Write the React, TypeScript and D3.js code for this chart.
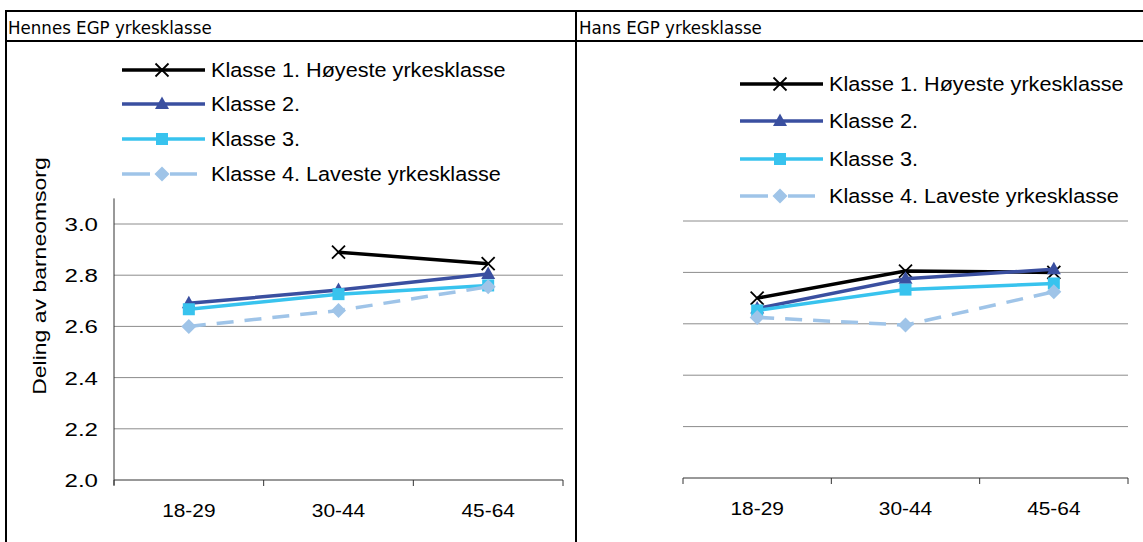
import * as d3 from "d3";
import React from "react";

// Age groups (x categories)
const ageGroups = ["18-29", "30-44", "45-64"];

const seriesNames = [
  "Klasse 1. Høyeste yrkesklasse",
  "Klasse 2.",
  "Klasse 3.",
  "Klasse 4. Laveste yrkesklasse",
];

// Hennes EGP yrkesklasse
const hennesK1 = [null, 2.89, 2.845];
const hennesK2 = [2.69, 2.742, 2.805];
const hennesK3 = [2.667, 2.726, 2.76];
const hennesK4 = [2.6, 2.662, 2.755];

// Hans EGP yrkesklasse
const hansK1 = [2.7, 2.805, 2.8];
const hansK2 = [2.66, 2.775, 2.812];
const hansK3 = [2.652, 2.733, 2.757];
const hansK4 = [2.625, 2.595, 2.725];

const yTicks = [2.0, 2.2, 2.4, 2.6, 2.8, 3.0];

const colors = ["#000000", "#3A4FA0", "#38C3EE", "#9FC4E8"];
const markers = ["x", "triangle", "square", "diamond"];

const FONT = "'Liberation Sans', Arial, sans-serif";

function Marker({ type, x, y, color }: { type: string; x: number; y: number; color: string }) {
  if (type === "x") {
    const s = 6.5;
    return (
      <g stroke={color} strokeWidth={1.8}>
        <line x1={x - s} y1={y - s} x2={x + s} y2={y + s} />
        <line x1={x - s} y1={y + s} x2={x + s} y2={y - s} />
      </g>
    );
  }
  if (type === "triangle") {
    const p = d3.path();
    p.moveTo(x, y - 7.5);
    p.lineTo(x + 7, y + 5);
    p.lineTo(x - 7, y + 5);
    p.closePath();
    return <path d={p.toString()} fill={color} />;
  }
  if (type === "square") {
    return <rect x={x - 6} y={y - 6} width={12} height={12} fill={color} />;
  }
  const p = d3.path();
  p.moveTo(x, y - 7.5);
  p.lineTo(x + 7.5, y);
  p.lineTo(x, y + 7.5);
  p.lineTo(x - 7.5, y);
  p.closePath();
  return <path d={p.toString()} fill={color} />;
}

// text with a stretch along its own direction (the source picture is distorted)
function SText({ x, y, anchor = "start", size = 18, sx = 1, children, rotate = 0, family = FONT }: any) {
  return (
    <g transform={`translate(${x},${y}) rotate(${rotate}) scale(${sx},1)`}>
      <text textAnchor={anchor} fontFamily={family} fontSize={size} fill="#000">
        {children}
      </text>
    </g>
  );
}

interface PanelProps {
  series: (number | null)[][];
  x0: number;
  x1: number;
  yBottom: number;
  yTop3: number;
  showY: boolean;
  legendX: number;
  legendY: number[];
}

function Panel({ series, x0, x1, yBottom, yTop3, showY, legendX, legendY }: PanelProps) {
  const x = d3.scaleBand<string>().domain(ageGroups).range([x0, x1]);
  const y = d3.scaleLinear().domain([2.0, 3.0]).range([yBottom, yTop3]);
  const yTopAxis = y(3.1);

  const line = d3
    .line<number | null>()
    .defined((d) => d != null)
    .x((_, i) => x(ageGroups[i])! + x.bandwidth() / 2)
    .y((d) => y(d as number));

  return (
    <g>
      {yTicks
        .filter((t) => t > 2.0)
        .map((t) => (
          <line key={t} x1={x0} x2={x1} y1={y(t)} y2={y(t)} stroke="#8c8c8c" strokeWidth={1} />
        ))}
      {showY && (
        <line x1={x0} x2={x0} y1={yTopAxis} y2={yBottom + 5} stroke="#333" strokeWidth={1} />
      )}
      <line x1={x0} x2={x1} y1={yBottom} y2={yBottom} stroke="#333" strokeWidth={1} />
      {[...ageGroups.map((g) => x(g)!), x1].map((v, i) => (
        <line key={i} x1={v} x2={v} y1={yBottom} y2={yBottom + 6} stroke="#333" strokeWidth={1} />
      ))}
      {showY &&
        yTicks.map((t) => (
          <SText key={t} x={98} y={y(t) + 7} anchor="end" size={18.5} sx={1.3}>
            {d3.format(".1f")(t)}
          </SText>
        ))}
      {ageGroups.map((g) => (
        <SText key={g} x={x(g)! + x.bandwidth() / 2} y={yBottom + 37} anchor="middle" size={18.5} sx={1.13}>
          {g}
        </SText>
      ))}
      {series.map((s, si) => (
        <g key={si}>
          <path
            d={line(s) || ""}
            fill="none"
            stroke={colors[si]}
            strokeWidth={3.5}
            strokeDasharray={si === 3 ? "17,11" : undefined}
          />
          {s.map((v, i) =>
            v == null ? null : (
              <Marker
                key={i}
                type={markers[si]}
                x={x(ageGroups[i])! + x.bandwidth() / 2}
                y={y(v)}
                color={colors[si]}
              />
            )
          )}
        </g>
      ))}
      {seriesNames.map((name, si) => {
        const ly = legendY[si];
        return (
          <g key={name}>
            {si === 3 ? (
              <g stroke={colors[si]} strokeWidth={3.5}>
                <line x1={legendX} x2={legendX + 28} y1={ly} y2={ly} />
                <line x1={legendX + 48} x2={legendX + 75} y1={ly} y2={ly} />
              </g>
            ) : (
              <line x1={legendX} x2={legendX + 83} y1={ly} y2={ly} stroke={colors[si]} strokeWidth={3.5} />
            )}
            <Marker type={markers[si]} x={legendX + 40} y={ly} color={colors[si]} />
            <SText x={legendX + 89} y={ly + 7} size={19.5} sx={1.11}>
              {name}
            </SText>
          </g>
        );
      })}
    </g>
  );
}

export default function App() {
  const W = 1143;
  const H = 542;
  return (
    <svg
      width={W}
      height={H}
      style={{ position: "absolute", left: 0, top: 0, background: "#fff" }}
    >
      <rect width={W} height={H} fill="#fff" />
      {/* table frame */}
      <g stroke="#000" strokeWidth={2}>
        <line x1={5} x2={W} y1={11} y2={11} />
        <line x1={5} x2={W} y1={41} y2={41} />
        <line x1={6} x2={6} y1={10} y2={H} />
        <line x1={576} x2={576} y1={10} y2={H} />
      </g>
      <SText x={8} y={34} size={17} sx={0.98} family="'DejaVu Sans', Verdana, sans-serif">
        Hennes EGP yrkesklasse
      </SText>
      <SText x={579} y={34} size={17} sx={0.98} family="'DejaVu Sans', Verdana, sans-serif">
        Hans EGP yrkesklasse
      </SText>
      <SText x={46} y={276} anchor="middle" size={19} sx={1.21} rotate={-90}>
        Deling av barneomsorg
      </SText>
      <Panel
        series={[hennesK1, hennesK2, hennesK3, hennesK4]}
        x0={114}
        x1={563}
        yBottom={480}
        yTop3={224}
        showY={true}
        legendX={122}
        legendY={[70, 104, 139, 174]}
      />
      <Panel
        series={[hansK1, hansK2, hansK3, hansK4]}
        x0={683}
        x1={1128}
        yBottom={478}
        yTop3={221}
        showY={false}
        legendX={740}
        legendY={[84, 121, 159, 196]}
      />
    </svg>
  );
}
